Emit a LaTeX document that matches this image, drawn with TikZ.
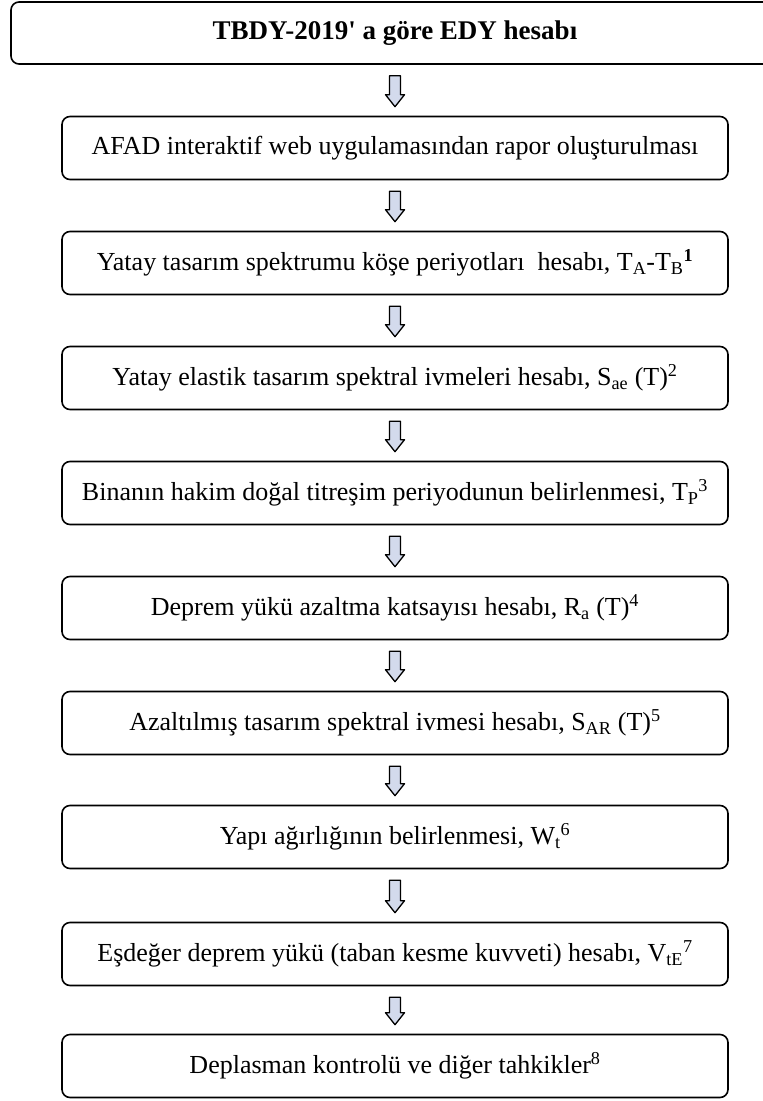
\documentclass[tikz,border=0pt]{standalone}
\usepackage{fontspec}
\setmainfont{Liberation Serif}
\usetikzlibrary{calc}
\definecolor{arrowfill}{HTML}{D3DAEC}
\newcommand\flowarrow[2]{%
  \draw[fatarrow] let \p1=($(#1.south)+(0,-11pt)$), \p2=($(#2.north)+(0,9pt)$) in
  (\x1-5.5pt,\y1) -- (\x1+5.5pt,\y1) -- (\x1+5.5pt,\y2+12pt) -- (\x1+9.5pt,\y2+12pt)
  -- (\x1,\y2) -- (\x1-9.5pt,\y2+12pt) -- (\x1-5.5pt,\y2+12pt) -- cycle;}
\begin{document}
\begin{tikzpicture}[x=1pt,y=-1pt,
  stepbox/.style={draw=black, line width=1.6pt, rounded corners=8pt, minimum width=666pt,
    minimum height=63pt, inner sep=0pt, fill=white, font=\fontsize{26}{31}\selectfont},
  titlebox/.style={stepbox, minimum width=768pt, minimum height=62pt,
    font=\fontsize{27}{32}\selectfont\bfseries},
  fatarrow/.style={draw=black, line width=1.3pt, fill=arrowfill, line join=round}]
\useasboundingbox (0,0) rectangle (763,1101);
\fill[white] (0,0) rectangle (763,1101);
\clip (0,0) rectangle (763,1101);
\node[titlebox] (b1) at (395,33) {TBDY-2019\textquotesingle\ a göre EDY hesabı};
\node[stepbox] (b2) at (395,148) {AFAD interaktif web uygulamasından rapor oluşturulması};
\node[stepbox] (b3) at (395,263) {Yatay tasarım spektrumu köşe periyotları\ \ hesabı, T\textsubscript{A}-T\textsubscript{B}\textsuperscript{\textbf{1}}};
\node[stepbox] (b4) at (395,378) {Yatay elastik tasarım spektral ivmeleri hesabı, S\textsubscript{ae} (T)\textsuperscript{2}};
\node[stepbox] (b5) at (395,493) {Binanın hakim doğal titreşim periyodunun belirlenmesi, T\textsubscript{P}\textsuperscript{3}};
\node[stepbox] (b6) at (395,608) {Deprem yükü azaltma katsayısı hesabı, R\textsubscript{a} (T)\textsuperscript{4}};
\node[stepbox] (b7) at (395,723) {Azaltılmış tasarım spektral ivmesi hesabı, S\textsubscript{AR} (T)\textsuperscript{5}};
\node[stepbox] (b8) at (395,837) {Yapı ağırlığının belirlenmesi, W\textsubscript{t}\textsuperscript{6}};
\node[stepbox] (b9) at (395,954) {Eşdeğer deprem yükü (taban kesme kuvveti) hesabı, V\textsubscript{tE}\textsuperscript{7}};
\node[stepbox] (b10) at (395,1066) {Deplasman kontrolü ve diğer tahkikler\textsuperscript{8}};
\flowarrow{b1}{b2}
\flowarrow{b2}{b3}
\flowarrow{b3}{b4}
\flowarrow{b4}{b5}
\flowarrow{b5}{b6}
\flowarrow{b6}{b7}
\flowarrow{b7}{b8}
\flowarrow{b8}{b9}
\flowarrow{b9}{b10}
\end{tikzpicture}
\end{document}
